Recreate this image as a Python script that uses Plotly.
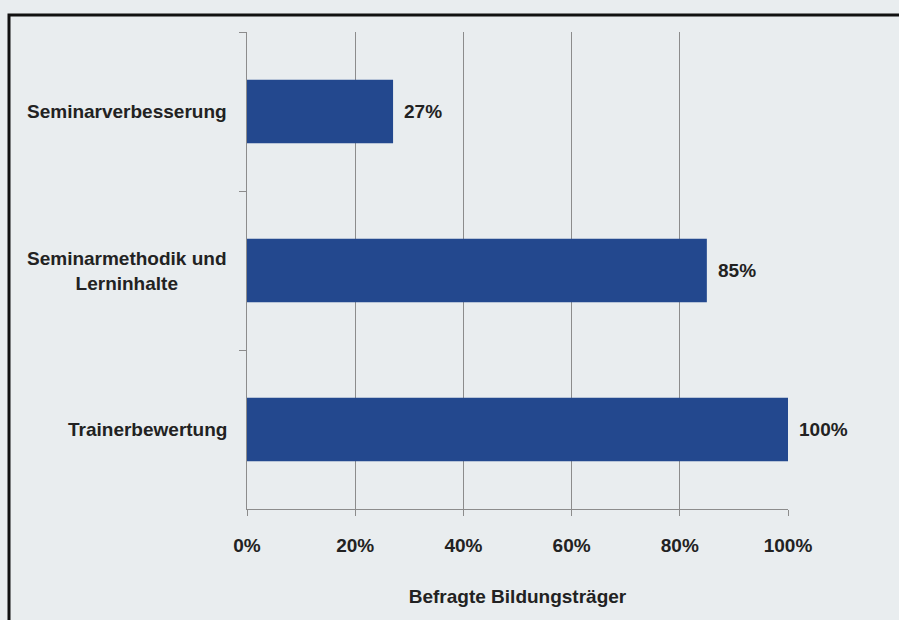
import plotly.graph_objects as go

categories = ["Seminarverbesserung", "Seminarmethodik und<br>Lerninhalte", "Trainerbewertung"]
values = [27, 85, 100]
x_ticks = [0, 20, 40, 60, 80, 100]
x_title = "Befragte Bildungsträger"

BAR = "#23488e"
BG = "#e9edef"
GRID = "#8c8c8c"
FONT = "Liberation Sans, Arial, sans-serif"
TXT = "#222222"

def bold(s):
    return "<b>" + s.replace("<br>", "</b><br><b>") + "</b>"

fig = go.Figure()
fig.add_trace(go.Bar(
    x=values, y=categories, orientation="h",
    marker=dict(color=BAR, line=dict(width=0)),
    hoverinfo="skip",
))

annotations = []
for c, v in zip(categories, values):
    annotations.append(dict(
        x=v, y=c, xref="x", yref="y", text=bold(f"{v}%"), showarrow=False,
        xanchor="left", xshift=9, font=dict(family=FONT, size=19, color=TXT),
    ))
    annotations.append(dict(
        x=0, y=c, xref="paper", yref="y", text=bold(c), showarrow=False,
        xanchor="right", align="center", xshift=-18,
        font=dict(family=FONT, size=19, color=TXT),
    ))

# page border (scan frame)
pl, pr, pt, pb = 247, 111, 32, 111
W, H = 899, 620
pw, ph = W - pl - pr, H - pt - pb
def px(x):
    return (x - pl) / pw
def py(y):
    return (H - pb - y) / ph

fig.update_layout(
    width=W, height=H,
    margin=dict(l=pl, r=pr, t=pt, b=pb, pad=0),
    paper_bgcolor=BG, plot_bgcolor=BG,
    showlegend=False,
    bargap=0.6,
    font=dict(family=FONT, size=19, color=TXT),
    xaxis=dict(
        range=[0, 100], tickvals=x_ticks, ticktext=[bold(f"{t}%") for t in x_ticks],
        showgrid=True, gridcolor=GRID, gridwidth=1,
        showline=True, linecolor=GRID, linewidth=1,
        ticks="outside", ticklen=6, tickcolor=GRID,
        zeroline=False, ticklabelstandoff=13,
        title=dict(text=bold(x_title), standoff=34, font=dict(family=FONT, size=19, color=TXT)),
        tickfont=dict(family=FONT, size=19, color=TXT),
    ),
    yaxis=dict(
        autorange="reversed", showticklabels=False,
        showline=True, linecolor=GRID, linewidth=1,
        ticks="outside", ticklen=7, tickcolor=GRID, tickson="boundaries",
        showgrid=False, zeroline=False,
    ),
    annotations=annotations,
    shapes=[dict(
        type="rect", xref="paper", yref="paper",
        x0=px(9), x1=px(910), y0=py(630), y1=py(15),
        line=dict(color="#111111", width=3), fillcolor="rgba(0,0,0,0)", layer="above",
    )],
)

fig.write_html("out.html")
